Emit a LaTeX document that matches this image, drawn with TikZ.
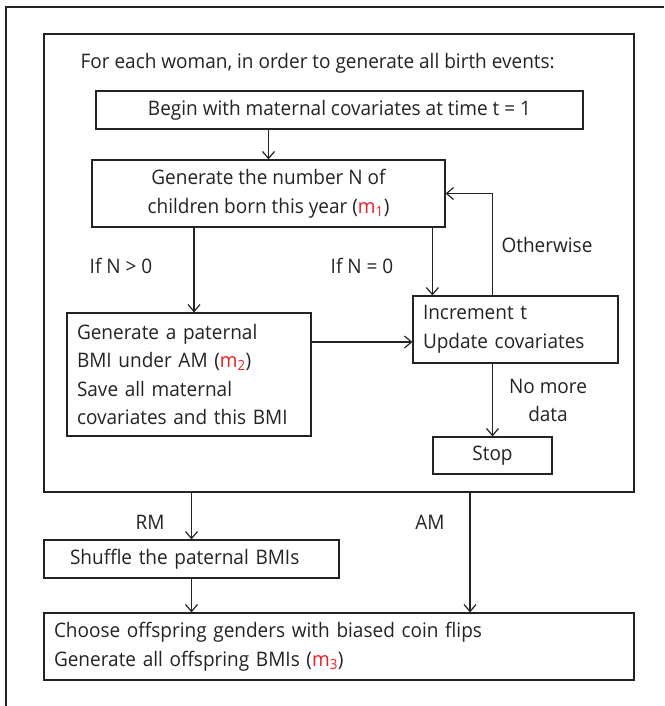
\documentclass[tikz,border=0pt]{standalone}
\usepackage{fontspec}
\setmainfont{Open Sans}[FakeStretch=0.95]
\usetikzlibrary{arrows.meta}
\definecolor{ink}{RGB}{35,35,35}
\definecolor{mred}{RGB}{235,30,35}
\newcommand{\mm}[1]{\textcolor{mred}{m\textsubscript{#1}}}
\begin{document}
\begin{tikzpicture}[x=1pt, y=-1pt, line width=1.2pt, draw=ink, text=ink,
  font=\fontsize{20}{28.5}\selectfont,
  >={Straight Barb[length=7pt,width=12pt]},
  box/.style={draw, rectangle, inner sep=0pt},
  lbl/.style={inner sep=0pt}]
\useasboundingbox (0,0) rectangle (664,706);
% frame
\draw (6,706) -- (6,7) -- (664,7);
% outer loop box
\node[box, minimum width=590, minimum height=458] (loop) at (339,263){};
\node[lbl, anchor=west] (title) at (80,63){For each woman, in order to generate all birth events:};
\node[box, minimum width=487, minimum height=38] (begin) at (339.5,110){Begin with maternal covariates at time t = 1};
\node[box, minimum width=353, minimum height=67, align=center] (gen) at (268.5,193.5){Generate the number N of\\children born this year (\mm{1})};
\node[box, minimum width=244, minimum height=123, text width=224, align=left] (genpat) at (189,374.5){Generate a paternal\\BMI under AM (\mm{2})\\Save all maternal\\covariates and this BMI};
\node[box, minimum width=205, minimum height=67, text width=185, align=left] (incr) at (515.5,329.5){Increment t\\Update covariates};
\node[box, minimum width=119, minimum height=37] (stop) at (492.5,455.5){Stop};
\coordinate (hit) at ([yshift=-12.5pt]incr.west);
\coordinate (zero) at ([xshift=20pt]incr.north west);
% loop arrows
\draw[->] (begin.south -| gen.north) -- (gen.north);
\draw[->] ([xshift=5pt]gen.south -| genpat.north) -- ([xshift=5pt]genpat.north);
\draw[->] (gen.south -| zero) -- (zero);
\draw[->] (stop.north |- incr.north) |- (gen.east);
\draw[->] (genpat.east |- hit) -- (hit);
\draw[->] (incr.south -| stop.north) -- (stop.north);
\node[lbl] (gt) at (121,266){If N > 0};
\node[lbl] (eq) at (362,266){If N = 0};
\node[lbl] (other) at (547,245){Otherwise};
\node[lbl, align=center] (nomore) at (548,400.5){No more\\data};
% after the loop
\node[box, minimum width=295, minimum height=38, text width=243, align=left] (shuffle) at (191.5,559){Shuffle the paternal BMIs};
\node[box, minimum width=590, minimum height=67, text width=570, align=left] (final) at (339,646.5){Choose offspring genders with biased coin flips\\Generate all offspring BMIs (\mm{3})};
\draw[->] (loop.south -| shuffle.north) -- (shuffle.north);
\draw[->] (shuffle.south) -- (final.north -| shuffle.south);
\draw[->] ([xshift=131pt]loop.south) -- ([xshift=131pt]final.north);
\node[lbl] (rm) at (150,522){RM};
\node[lbl] (am) at (430,522){AM};
\end{tikzpicture}
\end{document}
